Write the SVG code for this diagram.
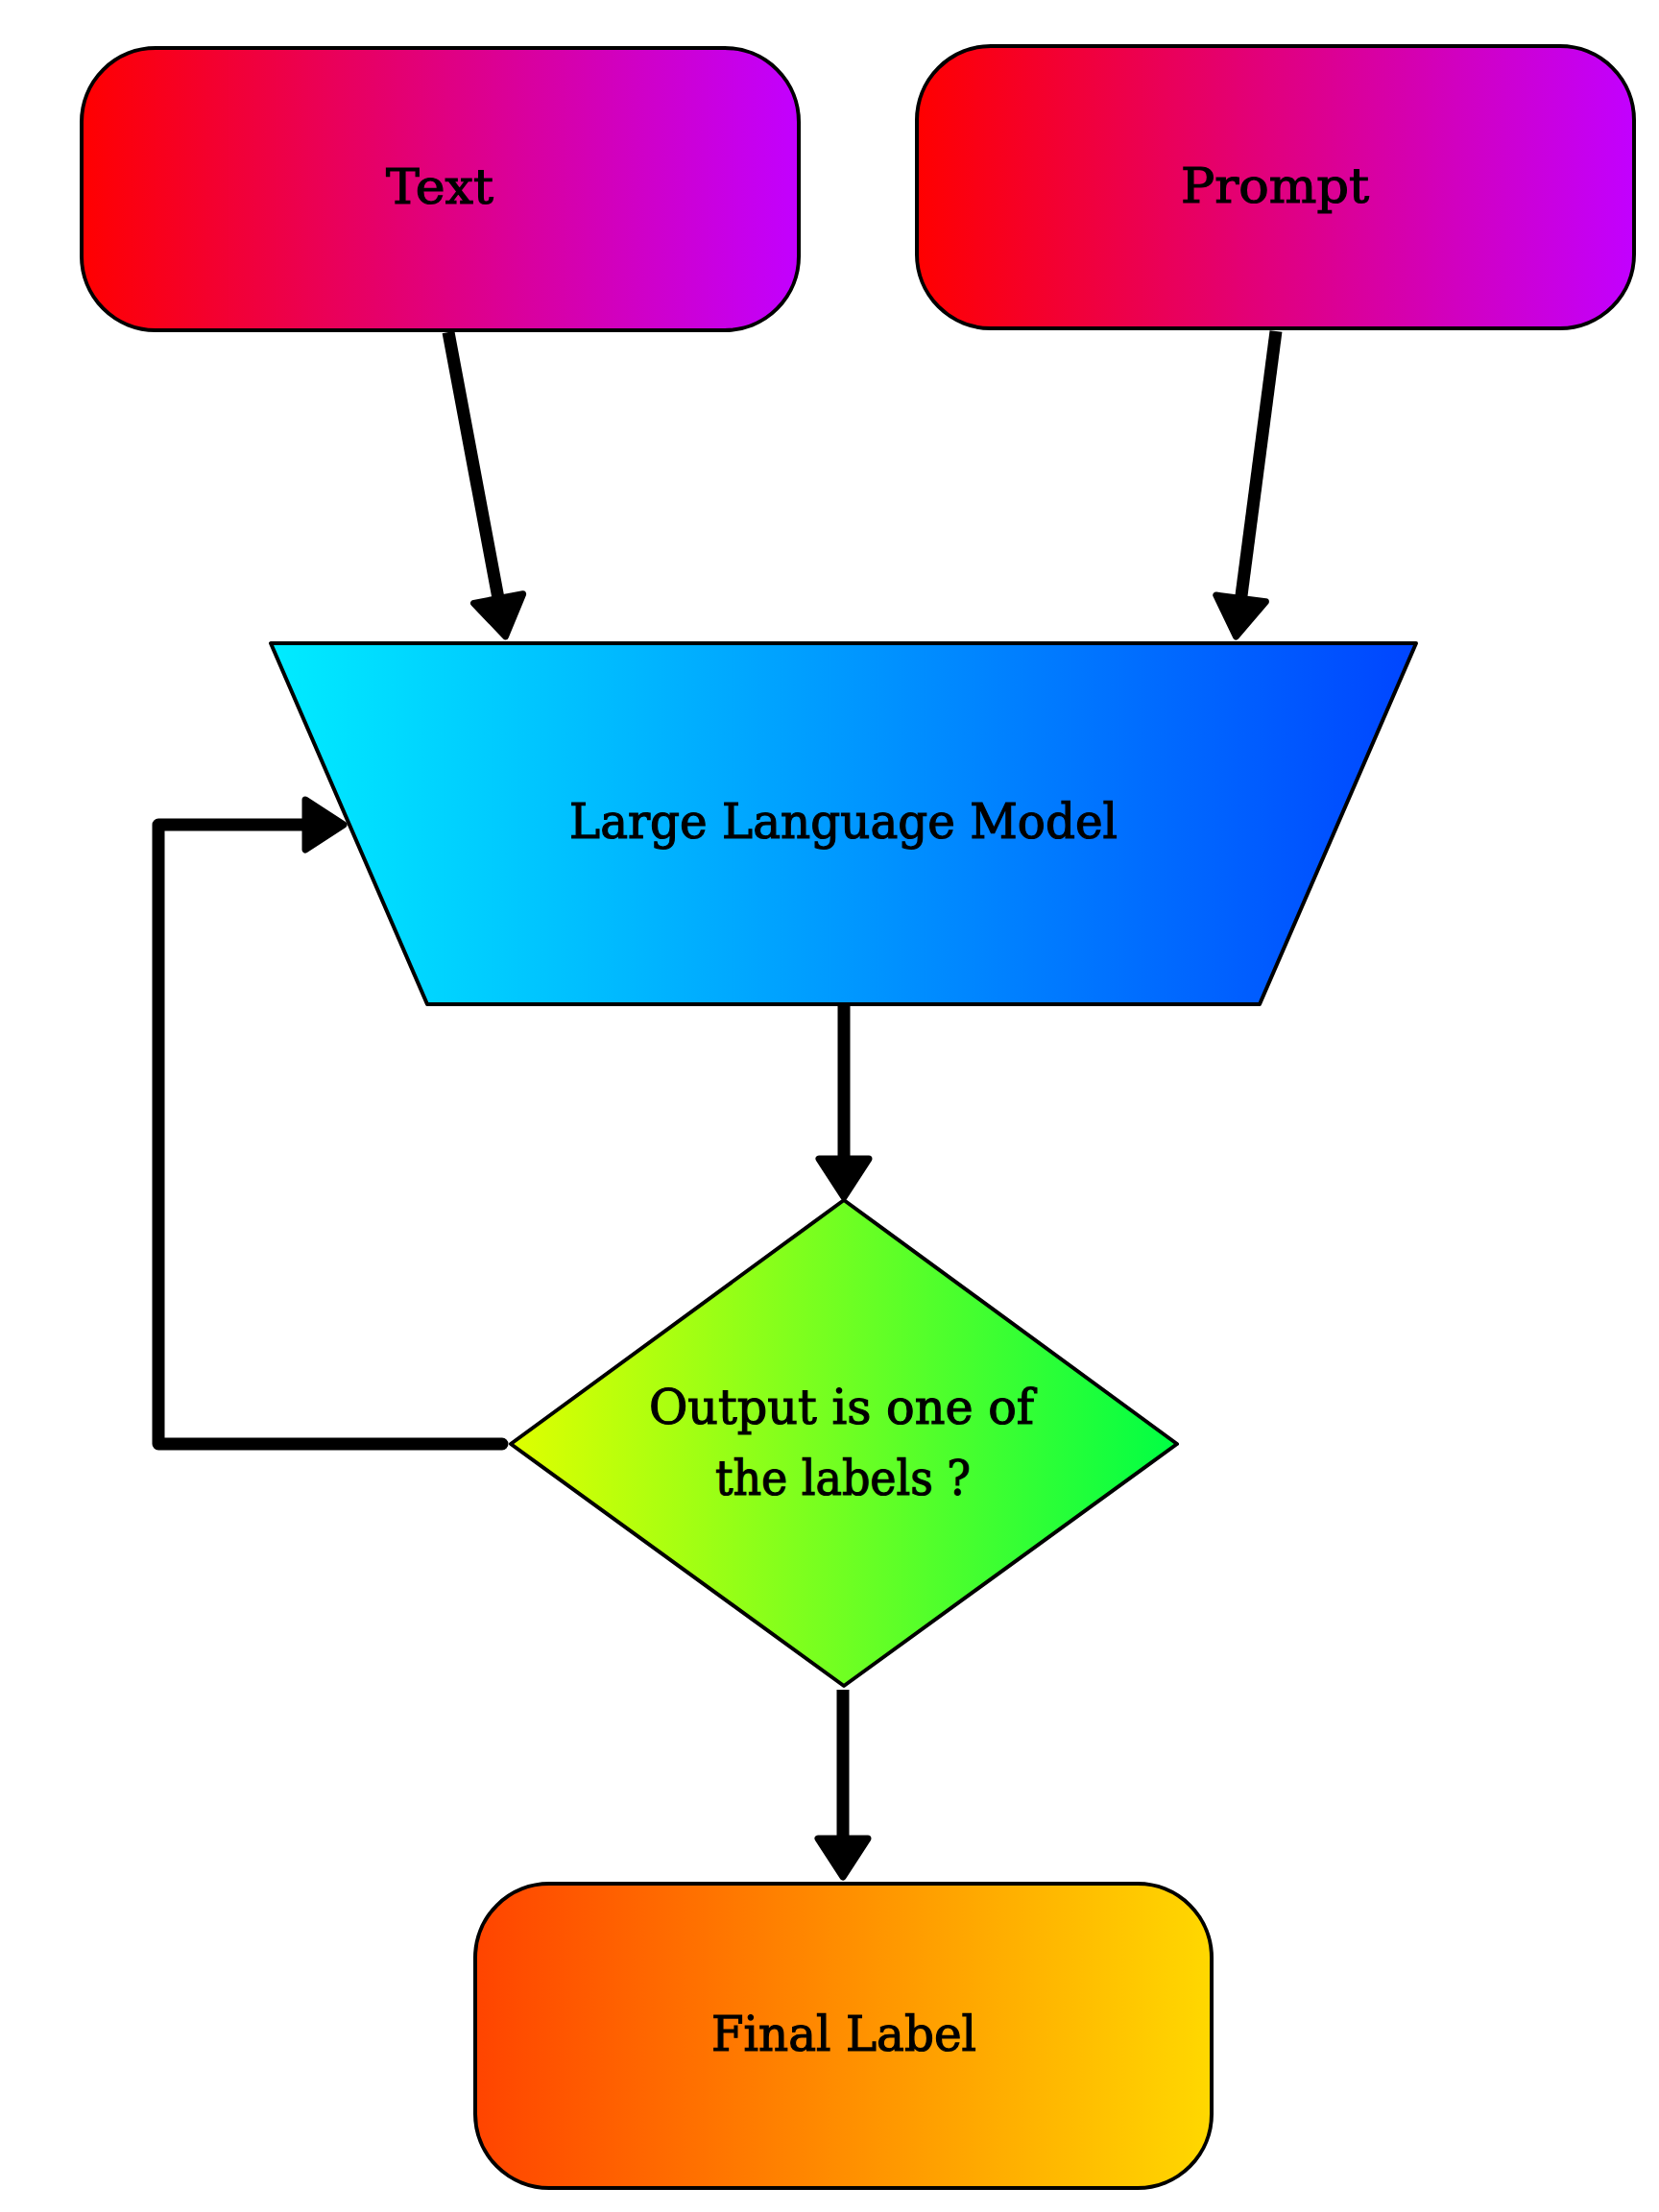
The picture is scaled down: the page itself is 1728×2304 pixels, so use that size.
<svg xmlns="http://www.w3.org/2000/svg" width="1728" height="2304" viewBox="0 0 1728 2304">
  <style>
    .node { stroke: #000; stroke-width: 4; stroke-linejoin: round; }
    .label { font-family: "DejaVu Serif", "Liberation Serif", serif; font-size: 50px; fill: #000; stroke: #000; stroke-width: 1.2; text-anchor: middle; }
    .edge { fill: none; stroke: #000; stroke-width: 13; stroke-linecap: butt; stroke-linejoin: round; marker-end: url(#arrow); }
    .loop { fill: none; stroke: #000; stroke-width: 13; stroke-linecap: round; stroke-linejoin: round; marker-end: url(#arrow); }
  </style>
  <defs>
    <linearGradient id="gRed" x1="0" y1="0" x2="1" y2="0">
      <stop offset="0" stop-color="#ff0000"/>
      <stop offset="1" stop-color="#c200ff"/>
    </linearGradient>
    <linearGradient id="gBlue" x1="0" y1="0" x2="1" y2="0">
      <stop offset="0" stop-color="#00ecff"/>
      <stop offset="1" stop-color="#0045ff"/>
    </linearGradient>
    <linearGradient id="gGreen" x1="0" y1="0" x2="1" y2="0">
      <stop offset="0" stop-color="#dfff00"/>
      <stop offset="1" stop-color="#00ff44"/>
    </linearGradient>
    <linearGradient id="gOrange" x1="0" y1="0" x2="1" y2="0">
      <stop offset="0" stop-color="#ff4400"/>
      <stop offset="1" stop-color="#ffd800"/>
    </linearGradient>
    <marker id="arrow" markerUnits="userSpaceOnUse" viewBox="0 0 50 64" markerWidth="50" markerHeight="64" refX="3" refY="32" orient="auto" overflow="visible">
      <path d="M3,6 L43,32 L3,58 Z" fill="#000" stroke="#000" stroke-width="7" stroke-linejoin="round"/>
    </marker>
  </defs>
  <rect width="1728" height="2304" fill="#fff"/>

  <g id="connectors">
    <path class="edge" d="M467,346 L519.1,623.6"/>
    <path class="edge" d="M1329,345 L1292.6,623.4"/>
    <path class="edge" d="M879,1046 L879,1207"/>
    <path class="edge" d="M878,1760 L878,1915"/>
    <path class="loop" d="M523,1504 L165,1504 L165,859 L318,859"/>
  </g>

  <g id="node-text">
    <rect class="node" x="85" y="50" width="747" height="294" rx="77" ry="77" fill="url(#gRed)"/>
    <text class="label" x="458" y="212" textLength="112" lengthAdjust="spacingAndGlyphs">Text</text>
  </g>

  <g id="node-prompt">
    <rect class="node" x="955" y="48" width="747" height="294" rx="77" ry="77" fill="url(#gRed)"/>
    <text class="label" x="1328" y="211" textLength="196" lengthAdjust="spacingAndGlyphs">Prompt</text>
  </g>

  <g id="node-llm">
    <polygon class="node" points="282,670 1475,670 1312,1046 445,1046" fill="url(#gBlue)"/>
    <text class="label" x="878.5" y="873" textLength="571" lengthAdjust="spacingAndGlyphs">Large Language Model</text>
  </g>

  <g id="node-decision">
    <polygon class="node" points="879,1250 1226,1504 879,1756 532,1504" fill="url(#gGreen)"/>
    <text class="label" x="876.5" y="1483" textLength="401" lengthAdjust="spacingAndGlyphs">Output is one of</text>
    <text class="label" x="878" y="1557" textLength="266" lengthAdjust="spacingAndGlyphs">the labels ?</text>
  </g>

  <g id="node-final">
    <rect class="node" x="495" y="1962" width="767" height="317" rx="77" ry="77" fill="url(#gOrange)"/>
    <text class="label" x="879" y="2136" textLength="276" lengthAdjust="spacingAndGlyphs">Final Label</text>
  </g>
</svg>
